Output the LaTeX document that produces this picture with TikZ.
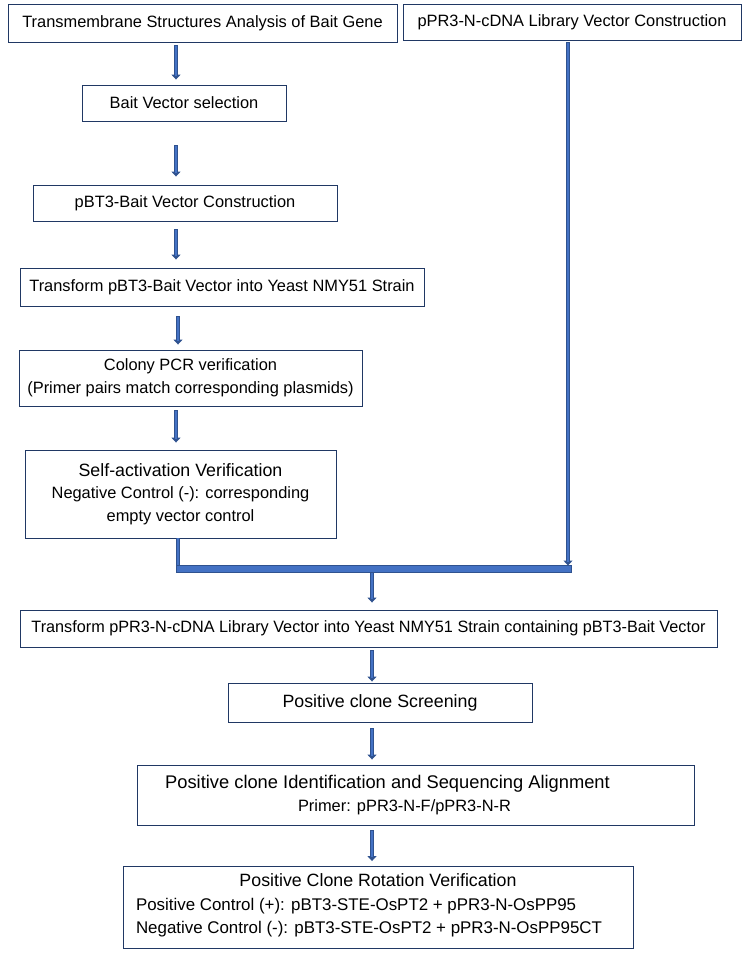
\documentclass[tikz,border=0pt]{standalone}
\usepackage{fontspec}
\usepackage{graphicx}
\setmainfont{Liberation Sans}
\definecolor{flowedge}{RGB}{32,56,100}
\definecolor{flowdark}{RGB}{47,82,143}
\definecolor{flowfill}{RGB}{68,114,196}
\usetikzlibrary{arrows.meta,positioning,calc}

\begin{document}
\begin{tikzpicture}[x=1pt,y=-1pt,
  stepbox/.style={draw=flowedge,line width=0.9pt,fill=white,align=center,
    inner sep=2pt,font=\fontsize{16.4}{22.5}\selectfont},
  headtxt/.style={font=\fontsize{17.8}{22.5}\selectfont},
  flowarrow/.style 2 args={draw=flowdark,line width=4pt,
    -{Triangle[length=5pt,width=9pt]},shorten <=#1,shorten >=#2,
    postaction={draw=flowfill,line width=1.6pt,-,shorten <=#1+0.6pt,shorten >=#2+4pt}},
  flowline/.style={draw=flowdark,line width=4pt,
    postaction={draw=flowfill,line width=1.6pt}}
]
  \useasboundingbox (0,0) rectangle (748,965);

  % Bait branch (left column)
  \node[stepbox,minimum width=389pt,minimum height=38pt] (tm) at (202.5,23)
    {Transmembrane Structures Analysis of Bait Gene};
  \node[stepbox,minimum width=338pt,minimum height=36pt] (lib) at (572,22)
    {pPR3-N-cDNA Library Vector Construction};
  \node[stepbox,minimum width=204pt,minimum height=36pt] (sel) at (184,103)
    {Bait Vector selection};
  \node[stepbox,minimum width=304pt,minimum height=36pt] (bt3) at (185,203)
    {pBT3-Bait Vector Construction};
  \node[stepbox,minimum width=404pt,minimum height=38pt] (trb) at (222,287)
    {Transform pBT3-Bait Vector into Yeast NMY51 Strain};
  \node[stepbox,minimum width=343pt,minimum height=56pt] (pcr) at (190.5,378)
    {Colony PCR verification\\(Primer pairs match corresponding plasmids)};
  \node[stepbox,minimum width=311pt,minimum height=88pt] (self) at (180.5,494)
    {{\fontsize{17.8}{22.5}\selectfont Self-activation Verification}\\
     Negative Control (-): corresponding\\empty vector control};

  % Library transformation and screening
  \node[stepbox,minimum width=697pt,minimum height=37pt] (trl) at (368.5,628.5)
    {\resizebox{674pt}{\height}{Transform pPR3-N-cDNA Library Vector into Yeast NMY51 Strain containing pBT3-Bait Vector}};
  \node[stepbox,minimum width=304pt,minimum height=39pt,headtxt] (scr) at (380,702.5)
    {Positive clone Screening};
  \node[stepbox,minimum width=557pt,minimum height=60pt] (idn) at (415.5,795)
    {{\fontsize{18.3}{22.5}\selectfont Positive clone Identification and Sequencing Alignment}\hspace*{56pt}\\
     Primer: pPR3-N-F/pPR3-N-R\hspace*{22pt}};
  \node[stepbox,minimum width=510pt,minimum height=82pt,inner sep=0pt] (rot) at (378,907.5)
    {{\fontsize{17.8}{23.5}\selectfont Positive Clone Rotation Verification}\\[6pt]
     {\fontsize{16.9}{23.5}\selectfont
     \begin{tabular}{@{}l@{}}Positive Control (+): pBT3-STE-OsPT2 + pPR3-N-OsPP95\\
     Negative Control (-): pBT3-STE-OsPT2 + pPR3-N-OsPP95CT\end{tabular}}\hspace*{18pt}};

  % Junction bar
  \coordinate (jl) at (176,568.5);
  \coordinate (jr) at (571,568.5);
  \coordinate (jm) at (372,568.5);
  \coordinate (colA) at (176,0);
  \coordinate (colB) at (178,0);
  \coordinate (colC) at (568,0);

  % Arrows
  \draw[flowarrow={3pt}{5pt}] (tm.south -| colA) -- (sel.north -| colA);
  \draw[flowarrow={24pt}{8pt}] (sel.south -| colA) -- (bt3.north -| colA);
  \draw[flowarrow={8pt}{8pt}] (bt3.south -| colA) -- (trb.north -| colA);
  \draw[flowarrow={10pt}{5pt}] (trb.south -| colB) -- (pcr.north -| colB);
  \draw[flowarrow={4pt}{7pt}] (pcr.south -| colA) -- (self.north -| colA);
  \draw[flowline] (self.south -| colB) -- (jl -| colB);
  \draw[flowarrow={2pt}{3pt}] (lib.south -| colC) -- (jr -| colC);
  \draw[draw=flowdark,fill=flowfill,line width=0.8pt]
    ($(jl)+(0,-3.5)$) rectangle ($(jr)+(0,3.5)$);
  \draw[flowarrow={3.5pt}{7pt}] (jm) -- (trl.north -| jm);
  \draw[flowarrow={3pt}{1pt}] (trl.south -| jm) -- (scr.north -| jm);
  \draw[flowarrow={6pt}{5pt}] (scr.south -| jm) -- (idn.north -| jm);
  \draw[flowarrow={5pt}{5pt}] (idn.south -| jm) -- (rot.north -| jm);
\end{tikzpicture}
\end{document}
